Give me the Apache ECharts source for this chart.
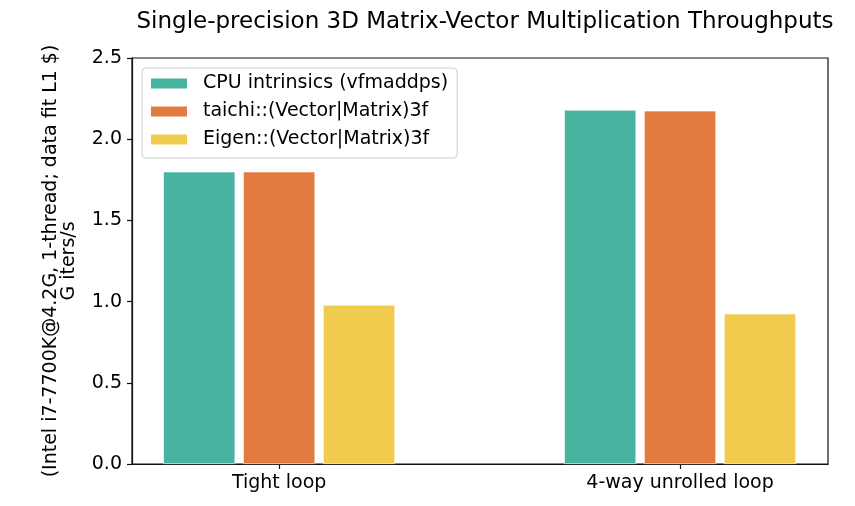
<!DOCTYPE html>
<html>
<head>
<meta charset="utf-8">
<script src="https://cdn.jsdelivr.net/npm/echarts@6/dist/echarts.min.js"></script>
<style>
  html, body { margin: 0; padding: 0; background: #fff; }
  #chart { width: 855px; height: 506px; }
</style>
</head>
<body>
<div id="chart"></div>
<script>
// throughput chart, values
var categories = ['Tight loop', '4-way unrolled loop'];
var seriesNames = ['CPU intrinsics (vfmaddps)', 'taichi::(Vector|Matrix)3f', 'Eigen::(Vector|Matrix)3f'];
var intrinsics = [1.80, 2.18];
var taichi = [1.80, 2.175];
var eigen = [0.98, 0.925];
var yTicks = [0, 0.5, 1.0, 1.5, 2.0, 2.5];
var colors = ['#48b39f', '#e37b41', '#f0cb4d'];

var myChart = echarts.init(document.getElementById('chart'));

var font = 'DejaVu Sans';
var allValues = [intrinsics, taichi, eigen];

var series = [];
for (var s = 0; s < seriesNames.length; s++) {
    var pts = [];
    for (var i = 0; i < categories.length; i++) {
        pts.push([i, allValues[s][i]]);
    }
    series.push({
        name: seriesNames[s],
        type: 'bar',
        data: pts,
        barWidth: 72,
        barGap: '11%',
        itemStyle: {
            color: colors[s],
            borderColor: '#fff',
            borderWidth: 0.6
        }
    });
}

var option = {
    animation: false,
    textStyle: { fontFamily: font },
    title: {
        text: 'Single-precision 3D Matrix-Vector Multiplication Throughputs',
        left: 480,
        textAlign: 'center',
        top: 6,
        textStyle: {
            fontFamily: font,
            fontSize: 23,
            fontWeight: 'normal',
            color: '#000'
        }
    },
    legend: {
        orient: 'vertical',
        left: 142,
        top: 68,
        data: seriesNames,
        icon: 'rect',
        itemWidth: 38,
        itemHeight: 12,
        itemGap: 9,
        padding: [6, 9, 9, 7],
        borderColor: '#cccccc',
        borderWidth: 1,
        borderRadius: 4,
        backgroundColor: 'rgba(255,255,255,0.8)',
        textStyle: {
            fontFamily: font,
            fontSize: 19,
            color: '#000',
            padding: [0, 0, 0, 10]
        }
    },
    grid: {
        left: 132,
        right: 27,
        top: 58,
        bottom: 42,
        show: true,
        borderColor: '#111',
        borderWidth: 1.2,
        containLabel: false
    },
    xAxis: {
        type: 'value',
        min: -0.367,
        max: 1.369,
        splitLine: { show: false },
        axisLine: { show: true, onZero: false, lineStyle: { color: '#111', width: 1.2 } },
        axisTick: {
            show: true,
            length: 5,
            customValues: [0, 1],
            lineStyle: { color: '#111', width: 1.2 }
        },
        axisLabel: {
            customValues: [0, 1],
            margin: 10,
            fontFamily: font,
            fontSize: 19,
            color: '#000',
            formatter: function (v) {
                return categories[Math.round(v)];
            }
        }
    },
    yAxis: {
        type: 'value',
        min: yTicks[0],
        max: yTicks[yTicks.length - 1],
        interval: 0.5,
        name: '(Intel i7-7700K@4.2G, 1-thread; data fit L1 $)\nG iters/s',
        nameLocation: 'middle',
        nameRotate: 90,
        nameGap: 54,
        nameTextStyle: {
            fontFamily: font,
            fontSize: 19,
            color: '#000',
            lineHeight: 18,
            align: 'center'
        },
        splitLine: { show: false },
        axisLine: { show: true, onZero: false, lineStyle: { color: '#111', width: 1.2 } },
        axisTick: { show: true, length: 5, lineStyle: { color: '#111', width: 1.2 } },
        axisLabel: {
            margin: 10,
            fontFamily: font,
            fontSize: 19,
            color: '#000',
            formatter: function (v) { return v.toFixed(1); }
        }
    },
    series: series
};
myChart.setOption(option);
</script>
</body>
</html>
